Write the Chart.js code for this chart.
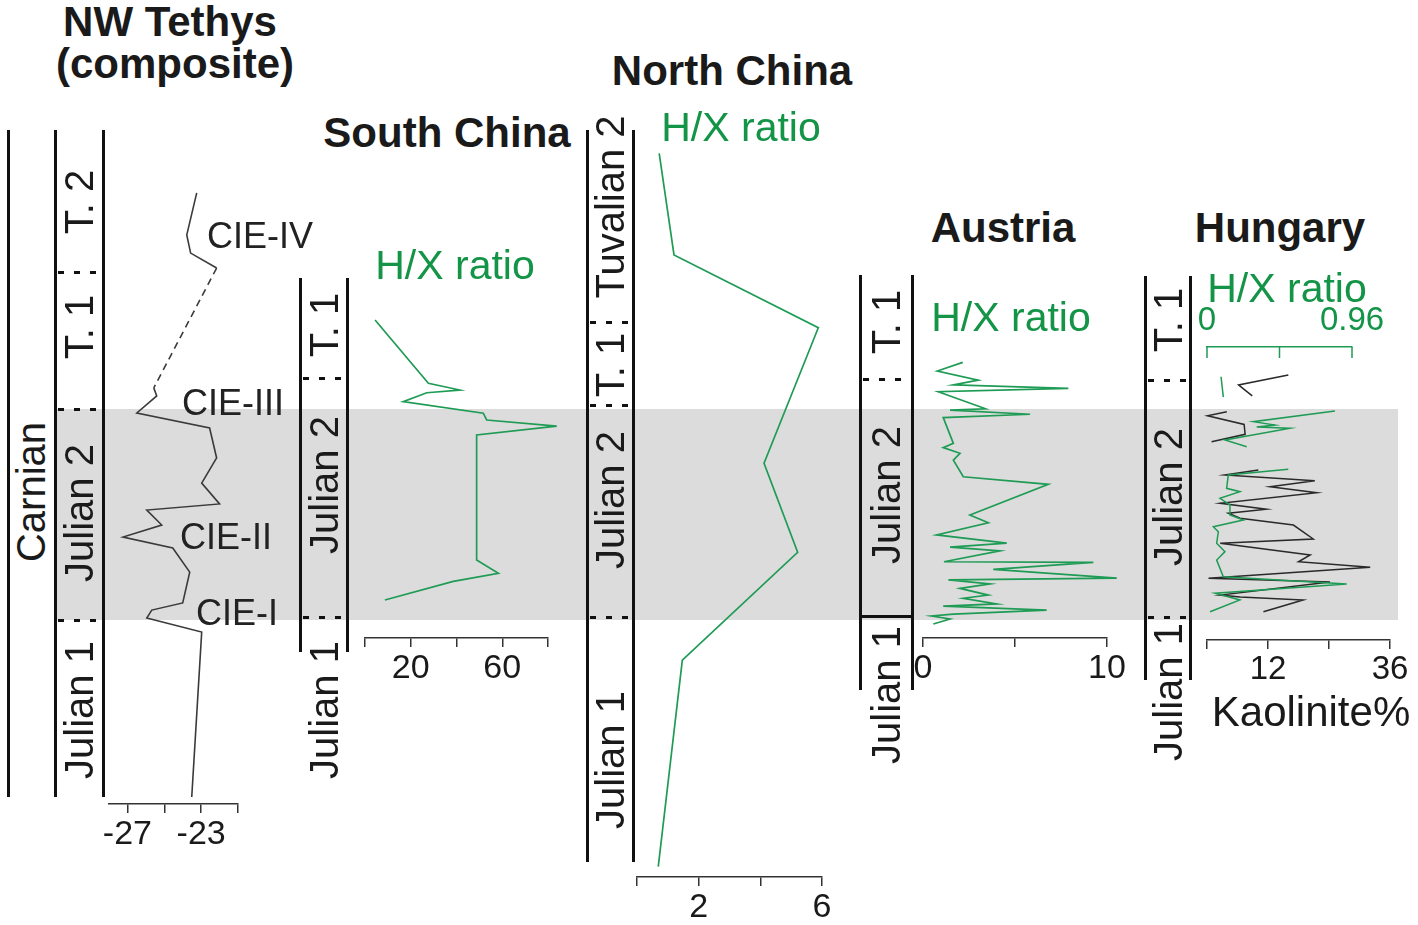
<!DOCTYPE html>
<html lang="en">
<head>
<meta charset="UTF-8">
<title>Carnian H/X ratio records</title>
<style>
    body {
        margin: 0;
        width: 1418px;
        height: 925px;
        position: relative;
        overflow: hidden;
        background: #fff;
        font-family: "Liberation Sans", Arial, sans-serif;
        color: #1a1a1a;
    }
    .band { position: absolute; background: #dcdcdc; z-index: 0; }
    canvas.panel { position: absolute; z-index: 2; }
    .vline { position: absolute; width: 3px; margin-left: -1.5px; background: #111; z-index: 3; }
    .bound {
        position: absolute; height: 3px; margin-top: -1.5px; z-index: 3;
        background: repeating-linear-gradient(to right, #111 0 6px, transparent 6px 16px);
    }
    .bound.solid { background: #111; }
    .txt { position: absolute; white-space: nowrap; line-height: 1; transform: translate(-50%, -50%); z-index: 4; }
    .rot { transform: translate(-50%, -50%) rotate(-90deg); font-size: 40px; }
    .title { font-weight: bold; font-size: 42px; }
    .green { color: #139447; font-size: 41px; }
    .cie { font-size: 36px; color: #222; }
    .axtitle { font-size: 42px; }
</style>
</head>
<body>
<div class="band" style="left:55px; top:409px; width:1343px; height:211px;"></div>

<div class="txt title" style="left:170px; top:22px;">NW Tethys</div>
<div class="txt title" style="left:175px; top:64px;">(composite)</div>
<div class="txt title" style="left:732px; top:71px;">North China</div>
<div class="txt title" style="left:447px; top:133px;">South China</div>
<div class="txt title" style="left:1003px; top:228px;">Austria</div>
<div class="txt title" style="left:1280px; top:228px;">Hungary</div>

<div class="txt green" style="left:455px; top:265px;">H/X ratio</div>
<div class="txt green" style="left:741px; top:127px;">H/X ratio</div>
<div class="txt green" style="left:1011px; top:317px;">H/X ratio</div>
<div class="txt green" style="left:1287px; top:288px;">H/X ratio</div>

<div class="txt cie" style="left:260px; top:236px;">CIE-IV</div>
<div class="txt cie" style="left:233px; top:403px;">CIE-III</div>
<div class="txt cie" style="left:226px; top:537px;">CIE-II</div>
<div class="txt cie" style="left:237px; top:613px;">CIE-I</div>

<div class="txt axtitle" style="left:1311px; top:712px;">Kaolinite%</div>

<div class="txt rot" style="left:31px; top:492px;">Carnian</div>

<script src="https://cdn.jsdelivr.net/npm/chart.js@4.4.1/dist/chart.umd.min.js"></script>
<script type="text/javascript">
    // stratigraphic level: 0 = base of Julian 2, 100 = top of Julian 2 (grey band)
    const BAND_TOP = 409, BAND_BOTTOM = 620;

    // NW Tethys composite d13C
    const tethysD13C = [-23.24, -23.78, -23.57, -22.16, -25.57, -25.41, -26.49, -22.54, -22.16, -22.97, -22.0,
        -25.95, -25.14, -27.24, -24.54, -23.62, -24.0, -25.68, -25.95, -22.97, -23.51];
    const tethysLevel = [202.4, 182.5, 173.9, 166.8, 110.0, 106.2, 98.1, 91.0, 76.8, 64.9, 55.0,
        52.1, 45.0, 39.3, 34.1, 22.7, 8.1, 4.7, 0.9, -5.7, -83.9];
    const tethysTicks = [-27, -25, -23, -21];
    const tethysTickLabels = ['-27', '', '-23', ''];

    // South China H/X ratio
    const southHX = [4.4, 27.7, 41.5, 27.0, 16.7, 51.7, 53.2, 83.8, 48.8, 48.8, 58.3, 38.6, 8.7];
    const southLevel = [142.2, 112.2, 109.0, 107.7, 103.5, 98.0, 94.8, 91.9, 87.7, 28.4, 22.1, 18.3, 9.5];
    const southTicks = [0, 20, 40, 60, 80];
    const southTickLabels = ['', '20', '', '60', ''];

    // North China H/X ratio
    const northHX = [0.72, 1.2, 5.88, 4.12, 5.21, 1.47, 0.69];
    const northLevel = [221.2, 173.0, 138.5, 74.3, 32.1, -19.0, -116.9];
    const northTicks = [0, 2, 4, 6];
    const northTickLabels = ['', '2', '', '6'];

    // Austria H/X ratio
    const austriaHX = [2.16, 0.78, 3.0, 1.65, 7.90, 0.83, 3.4, 1.47, 5.82, 1.10, 1.65, 1.10, 2.01, 1.65, 2.19,
        6.81, 2.55, 3.55, 0.74, 4.55, 1.47, 4.18, 1.14, 9.26, 3.82, 10.53, 1.38, 3.64, 2.01, 3.55, 2.19,
        4.01, 1.10, 6.72, 1.65, 0.47, 1.47, 0.56];
    const austriaLevel = [122.1, 118.0, 113.7, 111.4, 109.8, 108.2, 100.1, 99.5, 97.5, 95.9, 83.7, 81.7, 79.0, 75.8, 67.9,
        64.3, 49.8, 46.1, 40.3, 36.4, 34.5, 32.8, 27.6, 27.3, 24.0, 19.8, 19.0, 17.1, 15.0, 11.8, 10.3,
        7.6, 6.6, 4.7, 2.8, 1.9, 0.5, -1.9];
    const austriaTicks = [0, 5, 10];
    const austriaTickLabels = ['0', '', '10'];

    // Hungary: H/X ratio (green) and kaolinite % (black); null = gap in the record
    const hungaryHX = [0.093, 0.108, null, 0.847, 0.307, 0.450, 0.329, 0.550, 0.119, 0.263, null,
        0.538, 0.141, 0.130, 0.218, 0.086, 0.152, 0.152, 0.240, 0.042, 0.075, 0.064, 0.119, 0.064,
        0.108, 0.925, 0.053, 0.218, 0.020];
    const hungaryHXLevel = [115.3, 105.6, null, 99.1, 94.0, 92.4, 91.5, 90.9, 85.3, 82.1, null,
        71.4, 68.7, 62.4, 60.8, 57.7, 54.5, 49.8, 47.4, 44.2, 41.8, 36.4, 32.4, 28.4,
        20.5, 17.1, 12.7, 9.5, 3.9];
    const hungaryHXTicks = [0, 0.48, 0.96];
    const hungaryHXTickLabels = ['0', '', '0.96'];

    const hungaryKao = [16.0, 6.2, 8.9, null, 3.9, 0.1, 7.3, 7.5, 0.9, null,
        10.1, 3.5, 21.2, 12.4, 21.6, 2.6, 11.7, 4.2, 6.5, 17.0, 20.9, 2.6, 20.3, 18.0, 32.1,
        0.3, 24.2, 2.6, 6.5, 18.9, 11.1];
    const hungaryKaoLevel = [116.1, 111.4, 106.2, null, 98.7, 96.8, 92.7, 88.0, 84.5, null,
        71.1, 68.7, 66.0, 63.2, 60.3, 55.3, 52.5, 50.6, 48.2, 45.0, 38.4, 36.4, 30.8, 27.6, 25.0,
        19.8, 18.0, 11.8, 10.9, 9.5, 3.9];
    const hungaryKaoTicks = [0, 12, 24, 36];
    const hungaryKaoTickLabels = ['', '12', '', '36'];

    const FONT = '"Liberation Sans", Arial, sans-serif';
    const GREEN = '#1e9b54';
    const GREEN_TEXT = '#139447';
    const DARK = '#2a2a2a';
    const PAD = 40;

    // stratigraphic columns (page layout)
    const columns = [
        { lines: [8, 55, 103], top: 130, bottom: 797, dashed: [272, 409, 620], solid: [],
          labels: [['T. 2', 202], ['T. 1', 327], ['Julian 2', 513], ['Julian 1', 710]] },
        { lines: [300, 347], top: 278, bottom: 652, dashed: [378, 617], solid: [],
          labels: [['T. 1', 325], ['Julian 2', 485], ['Julian 1', 710]] },
        { lines: [587, 633], top: 130, bottom: 862, dashed: [322, 405, 617], solid: [],
          labels: [['Tuvalian 2', 207], ['T. 1', 365], ['Julian 2', 500], ['Julian 1', 760]] },
        { lines: [860, 912], top: 275, bottom: 690, dashed: [379], solid: [616],
          labels: [['T. 1', 322], ['Julian 2', 495], ['Julian 1', 695]] },
        { lines: [1145, 1190], top: 276, bottom: 680, dashed: [380, 617], solid: [],
          labels: [['T. 1', 320], ['Julian 2', 497], ['Julian 1', 692]] }
    ];

    function addDiv(cls, css, text) {
        const d = document.createElement('div');
        d.className = cls;
        d.style.cssText = css;
        if (text) d.textContent = text;
        document.body.appendChild(d);
    }

    columns.forEach(function(c) {
        const x1 = c.lines[c.lines.length - 2], x2 = c.lines[c.lines.length - 1];
        c.lines.forEach(x => addDiv('vline', `left:${x}px; top:${c.top}px; height:${c.bottom - c.top}px;`));
        c.dashed.forEach(y => addDiv('bound', `left:${x1 + 3}px; top:${y}px; width:${x2 - x1 - 4}px;`));
        c.solid.forEach(y => addDiv('bound solid', `left:${x1}px; top:${y}px; width:${x2 - x1}px;`));
        c.labels.forEach(l => addDiv('txt rot', `left:${(x1 + x2) / 2}px; top:${l[1]}px;`, l[0]));
    });

    function levelAt(py) {
        return (BAND_BOTTOM - py) * 100 / (BAND_BOTTOM - BAND_TOP);
    }

    // tick marks pointing into the plot for a top axis
    const downTicks = {
        id: 'downTicks',
        afterDraw(chart) {
            const sc = chart.scales.x, ctx = chart.ctx, y0 = chart.chartArea.top;
            ctx.save();
            ctx.strokeStyle = sc.options.border.color;
            ctx.lineWidth = 1.5;
            sc.ticks.forEach(function(t) {
                const x = sc.getPixelForValue(t.value);
                ctx.beginPath();
                ctx.moveTo(x, y0);
                ctx.lineTo(x, y0 + 11);
                ctx.stroke();
            });
            ctx.restore();
        }
    };

    function initPanel(p) {
        const axisH = p.axisH || 60;
        const top = p.axisTop ? p.top - axisH : p.top - 10;
        const height = p.axisTop ? p.bottom - top + 10 : p.bottom + axisH - top;
        const cv = document.createElement('canvas');
        cv.className = 'panel';
        cv.width = p.right - p.left + 2 * PAD;
        cv.height = height;
        cv.style.left = (p.left - PAD) + 'px';
        cv.style.top = top + 'px';
        document.body.appendChild(cv);

        const datasets = p.series.map(function(s) {
            return {
                data: s.x.map((x, i) => ({ x: x, y: s.y[i] })),
                showLine: true,
                borderColor: s.color,
                borderWidth: s.width || 1.7,
                pointRadius: 0,
                fill: false,
                clip: false,
                spanGaps: false,
                tension: 0,
                segment: {
                    borderDash: ctx => (s.dashAt !== undefined && ctx.p0DataIndex === s.dashAt) ? [7, 5] : undefined
                }
            };
        });

        new Chart(cv, {
            type: 'scatter',
            data: { datasets: datasets },
            options: {
                responsive: false,
                animation: false,
                events: [],
                layout: { padding: { left: PAD, right: PAD, top: p.axisTop ? 0 : 10, bottom: p.axisTop ? 10 : 0 } },
                plugins: { legend: { display: false }, tooltip: { enabled: false } },
                scales: {
                    x: {
                        type: 'linear',
                        position: p.axisTop ? 'top' : 'bottom',
                        min: p.min,
                        max: p.max,
                        afterBuildTicks: sc => { sc.ticks = p.ticks.map(v => ({ value: v })); },
                        afterFit: sc => { sc.height = axisH; },
                        ticks: {
                            autoSkip: false,
                            maxRotation: 0,
                            padding: p.axisTop ? 6 : 1,
                            color: p.tickColor || '#1a1a1a',
                            font: { family: FONT, size: p.tickSize || 34 },
                            callback: (v, i) => p.tickLabels[i]
                        },
                        grid: {
                            drawOnChartArea: false,
                            drawTicks: !p.axisTop,
                            tickLength: 9,
                            color: p.axisColor || '#333',
                            lineWidth: 1.5
                        },
                        border: { display: true, color: p.axisColor || '#333', width: 1.5 }
                    },
                    y: { type: 'linear', display: false, min: levelAt(p.bottom), max: levelAt(p.top) }
                }
            },
            plugins: p.axisTop ? [downTicks] : []
        });
    }

    initPanel({
        left: 109, right: 238, top: 150, bottom: 804, min: -28, max: -21,
        ticks: tethysTicks, tickLabels: tethysTickLabels,
        series: [{ x: tethysD13C, y: tethysLevel, color: '#3a3a3a', width: 1.6, dashAt: 3 }]
    });
    initPanel({
        left: 365, right: 548, top: 280, bottom: 638, min: 0, max: 80,
        ticks: southTicks, tickLabels: southTickLabels,
        series: [{ x: southHX, y: southLevel, color: GREEN }]
    });
    initPanel({
        left: 637, right: 822, top: 140, bottom: 877, min: 0, max: 6,
        ticks: northTicks, tickLabels: northTickLabels,
        series: [{ x: northHX, y: northLevel, color: GREEN }]
    });
    initPanel({
        left: 923, right: 1107, top: 330, bottom: 638, min: 0, max: 10,
        ticks: austriaTicks, tickLabels: austriaTickLabels,
        series: [{ x: austriaHX, y: austriaLevel, color: GREEN }]
    });
    initPanel({
        left: 1207, right: 1390, top: 350, bottom: 640, min: 0, max: 36,
        ticks: hungaryKaoTicks, tickLabels: hungaryKaoTickLabels, tickSize: 33,
        series: [{ x: hungaryKao, y: hungaryKaoLevel, color: DARK, width: 1.5 }]
    });
    initPanel({
        left: 1207, right: 1352, top: 347, bottom: 640, min: 0, max: 0.96, axisTop: true, axisH: 50,
        ticks: hungaryHXTicks, tickLabels: hungaryHXTickLabels, tickSize: 33,
        tickColor: GREEN_TEXT, axisColor: GREEN,
        series: [{ x: hungaryHX, y: hungaryHXLevel, color: GREEN, width: 1.5 }]
    });
</script>
</body>
</html>
